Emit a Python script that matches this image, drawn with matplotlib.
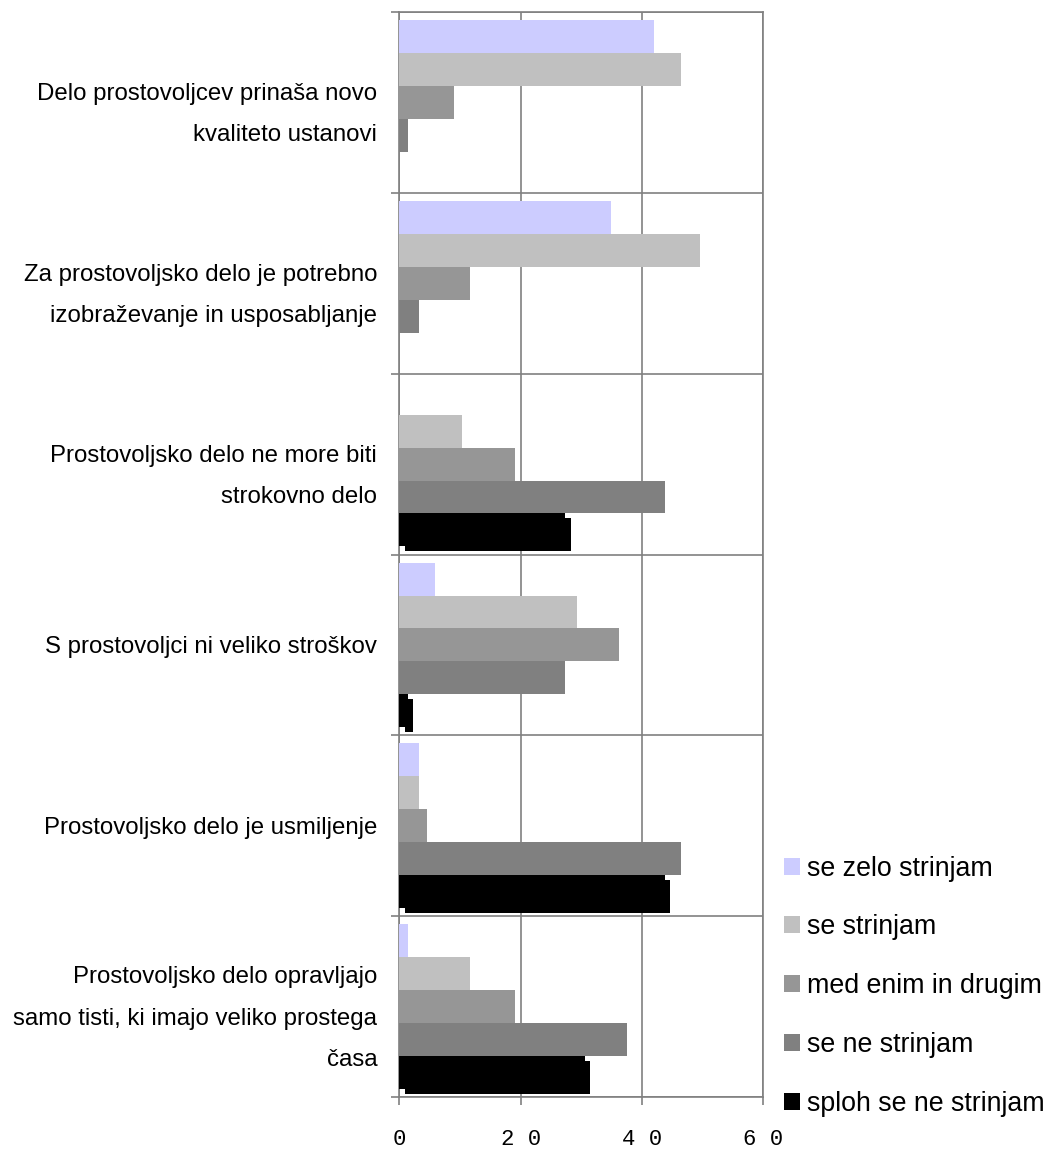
import numpy as np
import matplotlib
matplotlib.use("Agg")
import matplotlib.pyplot as plt
import matplotlib.patheffects as pe
from matplotlib.patches import Patch

# =============================================================================
# data
# =============================================================================
categories = ["Delo prostovoljcev prinaša novo\nkvaliteto ustanovi",
              "Za prostovoljsko delo je potrebno\nizobraževanje in usposabljanje",
              "Prostovoljsko delo ne more biti\nstrokovno delo",
              "S prostovoljci ni veliko stroškov",
              "Prostovoljsko delo je usmiljenje",
              "Prostovoljsko delo opravljajo\nsamo tisti, ki imajo veliko prostega\nčasa"]

series = ["se zelo strinjam", "se strinjam", "med enim in drugim",
          "se ne strinjam", "sploh se ne strinjam"]

zelo     = [42.0, 34.9, 0.0, 5.8, 3.2, 1.4]
strinjam = [46.4, 49.6, 10.3, 29.3, 3.2, 11.6]
med      = [9.0, 11.6, 19.0, 36.2, 4.5, 19.0]
ne       = [1.4, 3.2, 43.8, 27.4, 46.4, 37.5]
sploh    = [0.0, 0.0, 27.4, 1.4, 43.8, 30.6]

xticks = [0, 20, 40, 60]
xticklabels = ["0", "2 0", "4 0", "6 0"]

colors = ["#CCCCFF", "#C0C0C0", "#969696", "#808080", "#000000"]

plt.rcParams['font.family'] = ['Liberation Sans', 'DejaVu Sans']

fig = plt.figure(figsize=(10.52, 11.49), dpi=100)
ax = fig.add_axes([0.3797, 1 - 1097/1149, 0.3456, 1085/1149])

y = np.arange(len(categories))
h = 0.182
values = [zelo, strinjam, med, ne, sploh]
for k, vals in enumerate(values):
    bars = ax.barh(y + (k - 2) * h, vals, height=h, color=colors[k],
                   label=series[k], zorder=3, linewidth=0)
    if k == 4:
        # black bars have that odd offset shadow in the original
        for b in bars:
            if b.get_width() > 0:
                b.set_path_effects([pe.SimplePatchShadow(offset=(3.8, -3.6),
                                    shadow_rgbFace='black', alpha=1),
                                    pe.Normal()])

ax.set_xlim(0, 60)
ax.set_ylim(len(categories) - 0.5, -0.5)

# group boundaries as major ticks, labels on the minor ones
ax.set_yticks(np.arange(-0.5, len(categories), 1.0))
ax.set_yticklabels([])
ax.set_yticks(y, minor=True)
ax.set_yticklabels(categories, minor=True, fontsize=17.3, linespacing=2.15,
                   ha='right', ma='right')
ax.tick_params(axis='y', which='minor', length=0, pad=16)
ax.tick_params(axis='y', which='major', length=6, width=1.2, color='#808080',
               direction='out')

ax.set_xticks(xticks)
ax.set_xticklabels(xticklabels, family='Liberation Mono', fontsize=16)
ax.tick_params(axis='x', length=6, width=1.2, color='#808080', pad=17)

ax.grid(True, which='major', color='#808080', linewidth=1.2, zorder=0)
ax.set_axisbelow(True)
for s in ['top', 'right', 'left', 'bottom']:
    ax.spines[s].set_color('#808080')
    ax.spines[s].set_linewidth(1.2)

handles = [Patch(facecolor=c, edgecolor='none') for c in colors]
fig.legend(handles, series, loc='upper left', bbox_to_anchor=(773/1052, 1 - 845/1149),
           frameon=False, fontsize=19.3, handlelength=0.6, handleheight=0.6,
           handletextpad=0.25, labelspacing=1.22, borderaxespad=0)

fig.savefig("out.png", dpi=100)
